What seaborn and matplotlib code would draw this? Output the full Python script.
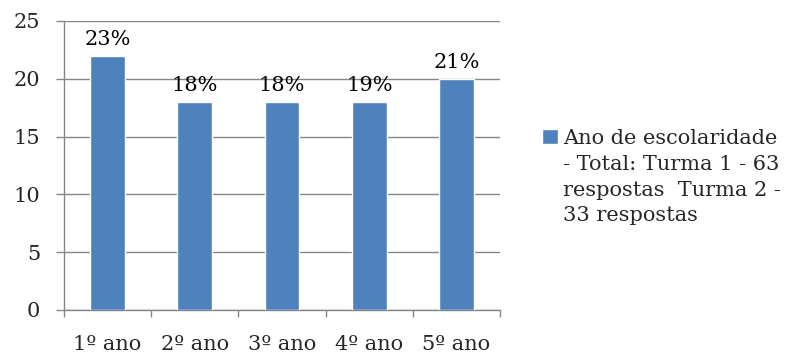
import matplotlib
matplotlib.use("Agg")
import matplotlib.pyplot as plt
import seaborn as sns
import pandas as pd

# Respostas por ano de escolaridade
anos = ["1º ano", "2º ano", "3º ano", "4º ano", "5º ano"]
respostas = [22, 18, 18, 18, 20]
percentagens = ["23%", "18%", "18%", "19%", "21%"]
serie = "Ano de escolaridade\n- Total: Turma 1 - 63\nrespostas  Turma 2 -\n33 respostas"

sns.set_theme(style="white")
plt.rcParams["font.family"] = ["DejaVu Serif", "Liberation Serif"]

azul = "#4F81BD"
cinza = "#868686"
fs = 15

fig = plt.figure(figsize=(8.07, 3.54), dpi=100)
ax = fig.add_axes([0.0793, 0.1243, 0.5403, 0.8164])

df = pd.DataFrame({"ano": anos, "respostas": respostas})
sns.barplot(data=df, x="ano", y="respostas", color=azul, width=0.4,
            saturation=1, ax=ax, label=serie, zorder=3)

# Rótulos percentuais acima das barras
for patch, txt in zip(ax.patches, percentagens):
    ax.annotate(txt, (patch.get_x() + patch.get_width() / 2, patch.get_height()),
                xytext=(0, 5), textcoords="offset points",
                ha="center", va="bottom", fontsize=fs, color="black")

ax.set_xlim(-0.5, len(anos) - 0.5)
ax.set_ylim(0, 25)
ax.set_yticks(range(0, 26, 5))
ax.set_xlabel("")
ax.set_ylabel("")

# Marcas do eixo X nas fronteiras das categorias, rótulos no centro
ax.set_xticks([i - 0.5 for i in range(len(anos) + 1)])
ax.set_xticklabels([])
ax.set_xticks(range(len(anos)), minor=True)
ax.set_xticklabels(anos, minor=True)
ax.tick_params(axis="x", which="major", length=5, width=1, color=cinza,
               direction="out", bottom=True)
ax.tick_params(axis="x", which="minor", length=0, pad=18, labelsize=fs)
ax.tick_params(axis="y", length=6, width=1, color=cinza, direction="out",
               left=True, pad=11, labelsize=fs)

ax.yaxis.grid(True, color=cinza, linewidth=1, zorder=0)
ax.xaxis.grid(False)
for lado in ("top", "right"):
    ax.spines[lado].set_visible(False)
for lado in ("left", "bottom"):
    ax.spines[lado].set_color(cinza)
    ax.spines[lado].set_linewidth(1)

leg = ax.legend(loc="upper left", bbox_to_anchor=(0.672, 0.635),
                bbox_transform=fig.transFigure, frameon=False, fontsize=fs,
                handlelength=0.75, handleheight=0.75, handletextpad=0.25,
                borderaxespad=0, borderpad=0)
for t in leg.get_texts():
    t.set_linespacing(1.45)
# Quadrado alinhado com a primeira linha do texto
for coluna in leg._legend_handle_box.get_children():
    for item in coluna.get_children():
        item.align = "top"

fig.savefig("out.png", dpi=100)
